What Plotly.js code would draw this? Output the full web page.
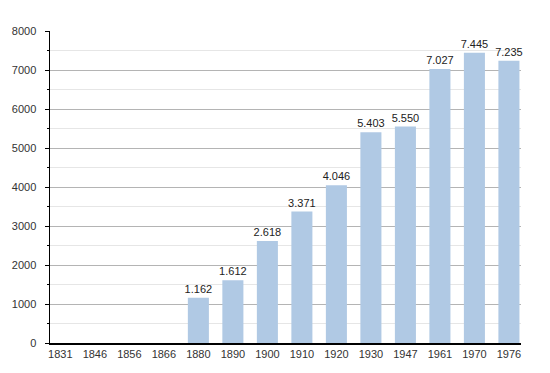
<!DOCTYPE html>
<html>
<head>
<meta charset="utf-8">
<script src="https://cdn.plot.ly/plotly-3.0.1.min.js"></script>
<style>html,body{margin:0;padding:0;background:#fff;}#chart{width:550px;height:373px;}</style>
</head>
<body>
<div id="chart"></div>
<script>
const years = ["1831","1846","1856","1866","1880","1890","1900","1910","1920","1930","1947","1961","1970","1976"];
const population = [null,null,null,null,1162,1612,2618,3371,4046,5403,5550,7027,7445,7235];
const yTicks = [0,1000,2000,3000,4000,5000,6000,7000,8000];

const trace = {
  type: 'bar',
  x: years,
  y: population,
  width: 0.61,
  marker: {color: '#b0c9e4'},
  texttemplate: '%{y:,.0f}',
  textposition: 'outside',
  constraintext: 'none',
  cliponaxis: false,
  textfont: {family: 'Liberation Sans, Arial, sans-serif', size: 11, color: '#222'},
  hoverinfo: 'none'
};

const layout = {
  width: 550, height: 373,
  margin: {l: 50, r: 29, t: 31, b: 30, pad: 0},
  paper_bgcolor: '#fff', plot_bgcolor: '#fff',
  separators: ',.',
  showlegend: false,
  bargap: 0.39,
  font: {family: 'Liberation Sans, Arial, sans-serif', size: 11, color: '#333'},
  xaxis: {
    type: 'category',
    range: [-0.3, 13.35],
    showgrid: false,
    showline: true, linecolor: '#000', linewidth: 1.5,
    ticks: '', tickfont: {size: 11, color: '#333'},
    zeroline: false, fixedrange: true
  },
  yaxis: {
    range: [0, 8000],
    tickvals: yTicks,
    ticktext: yTicks.map(String),
    showgrid: true, gridcolor: '#b4b4b4', gridwidth: 1,
    showline: true, linecolor: '#000', linewidth: 1.5,
    ticks: 'outside', ticklen: 4, tickcolor: '#000', tickwidth: 1,
    ticklabelstandoff: 6,
    tickfont: {size: 11, color: '#333'},
    minor: {dtick: 500, showgrid: true, gridcolor: '#e6e6e6', ticks: 'outside', ticklen: 2, tickcolor: '#000'},
    zeroline: false, fixedrange: true
  }
};

Plotly.newPlot('chart', [trace], layout, {displayModeBar: false, staticPlot: true});
</script>
</body>
</html>
